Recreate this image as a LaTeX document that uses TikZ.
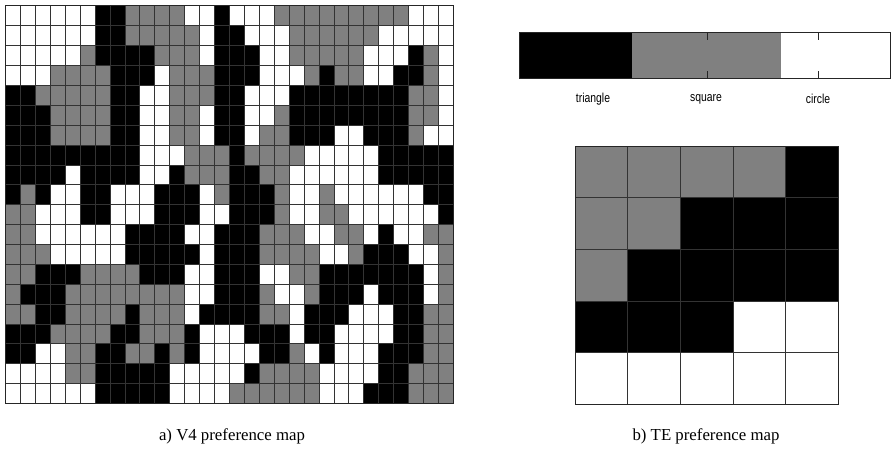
\documentclass[tikz,border=0pt]{standalone}
\usepackage{graphicx}
\usepackage{fontspec}
\setmainfont{Liberation Serif}
\newfontfamily\barfont{Liberation Sans}
\usepackage{tikz}
\usetikzlibrary{positioning}

\colorlet{mapK}{black}
\colorlet{mapG}{black!50}
\colorlet{mapW}{white}

\begin{document}
\begin{tikzpicture}[
			x=1pt, y=-1pt,
			gridline/.style={draw=black!80, line width=0.8pt},
			frameline/.style={draw=black!85, line width=1pt},
			barlabel/.style={font=\barfont\fontsize{13}{15}\selectfont, inner sep=0pt},
			caption/.style={font=\fontsize{16.8}{20}\selectfont, inner sep=0pt}
			]
			\useasboundingbox (0,0) rectangle (891,452);
			
			% V4 preference map (30 x 20)
			\begin{scope}[shift={(5.5,6)}, x=14.93pt, y=-19.87pt]
				\foreach \rowdata [count=\r from 0] in {
					{W,W,W,W,W,W,K,K,G,G,G,G,W,W,K,W,W,W,G,G,G,G,G,G,G,G,G,W,W,W},
					{W,W,W,W,W,W,K,K,G,G,G,G,G,W,K,K,W,W,W,G,G,G,G,G,G,W,W,W,W,W},
					{W,W,W,W,W,G,K,K,K,K,G,G,G,W,K,K,K,W,W,G,G,G,G,G,W,W,W,K,G,W},
					{W,W,W,G,G,G,G,K,K,K,W,G,G,G,K,K,K,W,W,W,G,K,G,G,W,W,K,K,G,W},
					{K,K,G,G,G,G,G,K,K,W,W,G,G,G,K,K,W,W,W,K,K,K,K,K,K,K,K,G,G,W},
					{K,K,K,G,G,G,G,K,K,W,W,G,G,W,K,K,W,W,G,K,K,K,K,K,K,K,K,G,G,W},
					{K,K,K,G,G,G,G,K,K,W,W,G,G,W,K,K,W,G,G,K,K,K,W,W,K,K,K,G,W,W},
					{K,K,K,K,K,K,K,K,K,W,W,W,G,G,G,K,G,G,G,G,W,W,W,W,W,K,K,K,K,K},
					{K,K,K,K,W,K,K,K,K,W,W,K,G,G,G,K,K,G,G,W,W,W,W,W,W,K,K,K,K,K},
					{K,G,K,W,W,K,K,W,W,W,K,K,K,W,G,K,K,K,G,W,W,G,W,W,W,W,W,W,K,K},
					{G,G,W,W,W,K,K,W,W,W,K,K,K,W,W,K,K,K,G,W,W,G,G,W,W,W,W,W,W,K},
					{G,G,W,W,W,W,W,W,K,K,K,K,W,W,K,K,K,G,G,G,W,W,G,G,W,K,W,W,G,G},
					{G,G,G,W,W,W,W,W,K,K,K,K,K,W,K,K,K,G,G,G,G,W,W,G,K,K,K,W,W,G},
					{G,G,K,K,K,G,G,G,G,K,K,K,W,W,K,K,K,W,W,G,G,K,K,K,K,K,K,K,W,G},
					{G,K,K,K,G,G,G,G,G,G,G,G,W,W,K,K,K,G,W,W,G,K,K,K,W,K,K,K,W,G},
					{G,G,K,K,G,G,G,G,K,G,G,G,W,K,K,K,K,G,G,W,K,K,K,W,W,W,K,K,G,G},
					{K,K,K,G,G,G,G,K,K,G,G,G,K,W,W,W,K,K,K,W,K,K,W,W,W,W,K,K,G,G},
					{K,K,W,W,G,G,K,K,G,G,K,G,K,W,W,W,W,K,K,G,W,K,W,W,W,K,K,K,G,G},
					{W,W,W,W,G,G,K,K,K,K,K,W,W,W,W,W,K,G,G,G,G,W,W,W,W,K,K,G,G,G},
					{W,W,W,W,W,W,K,K,K,K,K,W,W,W,W,G,G,G,G,G,G,W,W,W,K,K,K,G,G,G}}
					\foreach \v [count=\c from 0] in \rowdata
						\fill[fill=map\v] (\c,\r) rectangle ++(1,1);
				\foreach \c in {1,...,29}
					\draw[gridline] (\c,0) -- (\c,20);
				\foreach \r in {1,...,19}
					\draw[gridline] (0,\r) -- (30,\r);
				\draw[frameline] (0,0) rectangle (30,20);
			\end{scope}
			
			% colour bar
			\fill[mapK] (519.3,32.7) rectangle (631.7,78.3);
			\fill[mapG] (631.7,32.7) rectangle (781,78.3);
			\fill[mapW] (781,32.7) rectangle (890.5,78.3);
			\draw[frameline] (519.3,32.7) rectangle (890.5,78.3);
			\foreach \t in {707.3,818.3} {
				\draw[black!85, line width=0.8pt] (\t,32.7) -- (\t,40);
				\draw[black!85, line width=0.8pt] (\t,78.3) -- (\t,71);
			}
			\node (lbl_triangle) [barlabel] at (593,99) {\scalebox{0.8}[1]{triangle}};
			\node (lbl_square) [barlabel] at (706,99) {\scalebox{0.8}[1]{square}};
			\node (lbl_circle) [barlabel] at (818,99) {\scalebox{0.8}[1]{circle}};
			
			% TE preference map (5 x 5)
			\begin{scope}[shift={(575,146)}, x=52.6pt, y=-51.6pt]
				\foreach \rowdata [count=\r from 0] in {
					{G,G,G,G,K},
					{G,G,K,K,K},
					{G,K,K,K,K},
					{K,K,K,W,W},
					{W,W,W,W,W}}
					\foreach \v [count=\c from 0] in \rowdata
						\fill[fill=map\v] (\c,\r) rectangle ++(1,1);
				\foreach \c in {1,...,4}
					\draw[gridline, line width=0.6pt] (\c,0) -- (\c,5);
				\foreach \r in {1,...,4}
					\draw[gridline, line width=0.6pt] (0,\r) -- (5,\r);
				\draw[frameline] (0,0) rectangle (5,5);
			\end{scope}
			
			% Captions
			\node (cap_v4) [caption] at (232,436) {a) V4 preference map};
			\node (cap_te) [caption] at (706,436) {b) TE preference map};
			
		\end{tikzpicture}
\end{document}
